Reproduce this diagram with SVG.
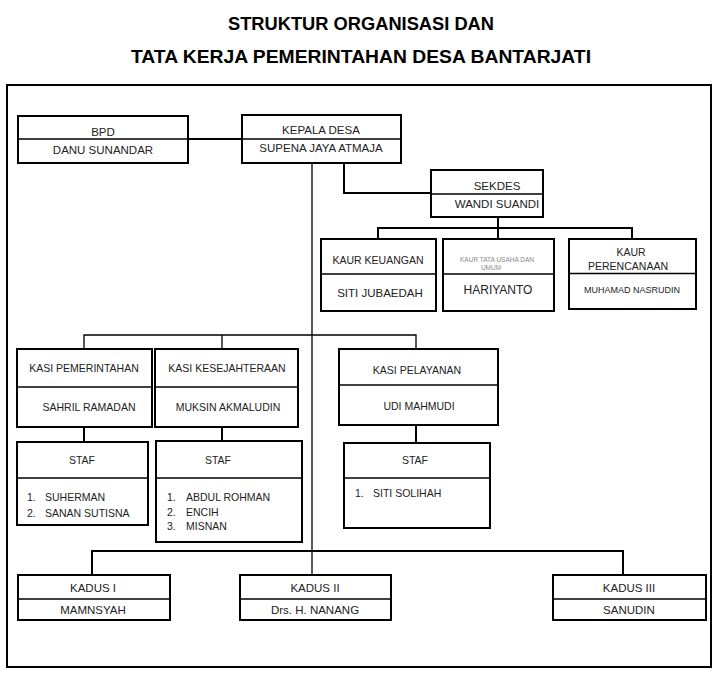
<svg xmlns="http://www.w3.org/2000/svg" width="718" height="679" viewBox="0 0 718 679">
<style>
.box{fill:#fff;stroke:#000;stroke-width:2}
.div{stroke:#000;stroke-width:1.5}
.ln{fill:none;stroke:#000;stroke-width:2}
.thin{fill:none;stroke:#000;stroke-width:1.3}
text{font-family:"Liberation Sans",Arial,sans-serif;fill:#222}
.t{font-size:11.5px;text-anchor:middle}
.s{font-size:10.5px;text-anchor:middle}
.l{font-size:10.5px}
.title{font-size:19px;font-weight:bold;text-anchor:middle;fill:#000}
</style>
<rect width="718" height="679" fill="#fff"/>
<text class="title" x="361" y="30" textLength="266" lengthAdjust="spacingAndGlyphs">STRUKTUR ORGANISASI DAN</text>
<text class="title" x="361" y="63" textLength="460" lengthAdjust="spacingAndGlyphs">TATA KERJA PEMERINTAHAN DESA BANTARJATI</text>
<rect x="7" y="85" width="704" height="582" fill="none" stroke="#000" stroke-width="2"/>
<g id="connectors">
<path class="ln" d="M188 139H241"/>
<path class="thin" d="M312 163V575"/>
<path class="ln" d="M344 163V193H431"/>
<path class="ln" d="M498 217V228M378 239V228H632V239M498 228V239"/>
<path class="thin" d="M84 349V335H416V349M222 335V349"/>
<path class="ln" d="M84 427V442M222 427V442M416 425V443"/>
<path class="ln" d="M92 575V551H623V575"/>
</g>
<g id="bpd">
<rect class="box" x="18" y="116" width="170" height="47"/>
<line class="div" x1="18" y1="139" x2="188" y2="139"/>
<text class="t" x="103" y="136">BPD</text>
<text class="t" x="103" y="154">DANU SUNANDAR</text>
</g>
<g id="kepala-desa">
<rect class="box" x="242" y="115" width="159" height="48"/>
<line class="div" x1="242" y1="139" x2="401" y2="139"/>
<text class="t" x="321" y="134">KEPALA DESA</text>
<text class="t" x="321" y="152">SUPENA JAYA ATMAJA</text>
</g>
<g id="sekdes">
<rect class="box" x="431" y="170" width="112" height="47"/>
<line class="div" x1="431" y1="194" x2="543" y2="194"/>
<text class="t" x="497" y="190">SEKDES</text>
<text class="t" x="497" y="208">WANDI SUANDI</text>
</g>
<g id="kaur-keuangan">
<rect class="box" x="321" y="239" width="115" height="72"/>
<line class="div" x1="321" y1="274" x2="436" y2="274"/>
<text class="s" x="378" y="264">KAUR KEUANGAN</text>
<text class="t" x="380" y="297">SITI JUBAEDAH</text>
</g>
<g id="kaur-tata-usaha">
<rect class="box" x="443" y="239" width="111" height="72"/>
<line class="div" x1="443" y1="274" x2="554" y2="274"/>
<text x="497" y="261.5" style="font-size:6.5px;text-anchor:middle;fill:#8a8a8a">KAUR TATA USAHA DAN</text>
<text x="491" y="269.5" style="font-size:6.5px;text-anchor:middle;fill:#8a8a8a">UMUM</text>
<text x="498" y="294" style="font-size:12px;text-anchor:middle">HARIYANTO</text>
</g>
<g id="kaur-perencanaan">
<rect class="box" x="569" y="239" width="127" height="70"/>
<line class="div" x1="569" y1="273.5" x2="696" y2="273.5"/>
<text class="s" x="631" y="256">KAUR</text>
<text class="s" x="628" y="270">PERENCANAAN</text>
<text x="632" y="293" style="font-size:9px;text-anchor:middle">MUHAMAD NASRUDIN</text>
</g>
<g id="kasi-pemerintahan">
<rect class="box" x="17" y="349" width="135" height="78"/>
<line class="div" x1="17" y1="387" x2="152" y2="387"/>
<text class="s" x="84" y="372">KASI PEMERINTAHAN</text>
<text class="s" x="89" y="411">SAHRIL RAMADAN</text>
</g>
<g id="kasi-kesejahteraan">
<rect class="box" x="155" y="349" width="143" height="78"/>
<line class="div" x1="155" y1="387" x2="298" y2="387"/>
<text class="s" x="227" y="372">KASI KESEJAHTERAAN</text>
<text class="s" x="228" y="411">MUKSIN AKMALUDIN</text>
</g>
<g id="kasi-pelayanan">
<rect class="box" x="339" y="349" width="159" height="76"/>
<line class="div" x1="339" y1="385" x2="498" y2="385"/>
<text class="s" x="417" y="374">KASI PELAYANAN</text>
<text class="s" x="419" y="410">UDI MAHMUDI</text>
</g>
<g id="staf-pemerintahan">
<rect class="box" x="17" y="442" width="131" height="83"/>
<line class="div" x1="17" y1="478" x2="148" y2="478"/>
<text class="s" x="82" y="464">STAF</text>
<text class="l" x="27" y="501">1.</text><text class="l" x="45" y="501">SUHERMAN</text>
<text class="l" x="27" y="517">2.</text><text class="l" x="45" y="517">SANAN SUTISNA</text>
</g>
<g id="staf-kesejahteraan">
<rect class="box" x="156" y="441" width="146" height="101"/>
<line class="div" x1="156" y1="478" x2="302" y2="478"/>
<text class="s" x="218" y="464">STAF</text>
<text class="l" x="167" y="501">1.</text><text class="l" x="186" y="501">ABDUL ROHMAN</text>
<text class="l" x="167" y="516">2.</text><text class="l" x="186" y="516">ENCIH</text>
<text class="l" x="167" y="530">3.</text><text class="l" x="186" y="530">MISNAN</text>
</g>
<g id="staf-pelayanan">
<rect class="box" x="344" y="443" width="146" height="85"/>
<line class="div" x1="344" y1="478" x2="490" y2="478"/>
<text class="s" x="415" y="464">STAF</text>
<text class="l" x="355" y="497">1.</text><text class="l" x="373" y="497">SITI SOLIHAH</text>
</g>
<g id="kadus-1">
<rect class="box" x="18" y="575" width="152" height="45"/>
<line class="div" x1="18" y1="599" x2="170" y2="599"/>
<text class="t" x="93" y="592">KADUS I</text>
<text class="t" x="93" y="614">MAMNSYAH</text>
</g>
<g id="kadus-2">
<rect class="box" x="240" y="575" width="151" height="45"/>
<line class="div" x1="240" y1="599" x2="391" y2="599"/>
<text class="t" x="315" y="592">KADUS II</text>
<text class="t" x="315" y="614">Drs. H. NANANG</text>
</g>
<g id="kadus-3">
<rect class="box" x="553" y="575" width="153" height="45"/>
<line class="div" x1="553" y1="599" x2="706" y2="599"/>
<text class="t" x="629" y="592">KADUS III</text>
<text class="t" x="629" y="614">SANUDIN</text>
</g>
</svg>
